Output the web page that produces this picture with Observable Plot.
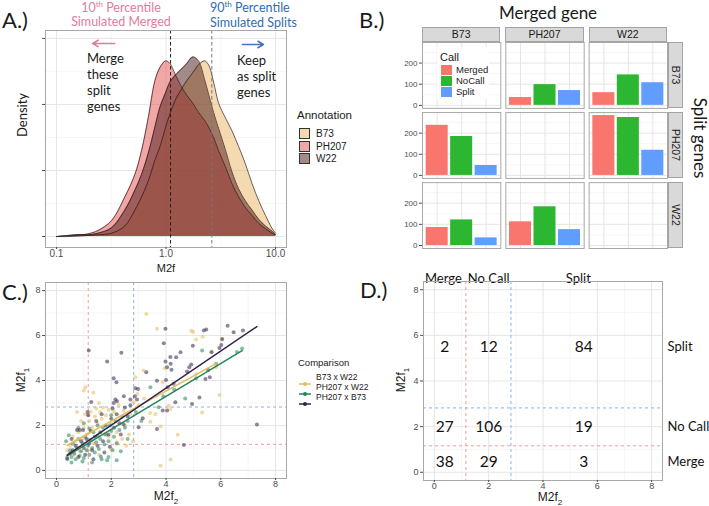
<!DOCTYPE html>
<html><head><meta charset="utf-8">
<script src="https://cdn.jsdelivr.net/npm/d3@7"></script>
<script src="https://cdn.jsdelivr.net/npm/@observablehq/plot@0.6"></script>
<style>
body{margin:0;background:#fff;}
#root{position:relative;width:709px;height:506px;overflow:hidden;background:#fff;font-family:"Liberation Sans",Arial,sans-serif;color:#1a1a1a;}
.abs{position:absolute;white-space:nowrap;line-height:1;}
.cal{font-family:Lato,"Open Sans",sans-serif;}
#root svg{position:absolute;overflow:visible;}
</style></head><body><div id="root"></div>
<script>
// ---------- DATA ----------
const lines = ["B73", "PH207", "W22"];
// Panel A: density of M2f (log x)
const densityM2f  = [0.1,0.127,0.157,0.194,0.239,0.318,0.421,0.52,0.598,0.689,0.793,0.881,0.993,1.088,1.21,1.393,1.548,1.758,1.98,2.248,2.445,2.718,3.02,3.477,4.003,4.609,5.305,6.109,7.031,8.093,9.313,10];
const densityB73  = [0,0,0.003,0.008,0.013,0.025,0.08,0.2,0.3,0.42,0.58,0.68,0.83,0.93,1.03,1.12,1.18,1.24,1.3,1.33,1.3,1.17,1.01,0.9,0.8,0.68,0.55,0.4,0.27,0.16,0.06,0.025];
const densityPH207= [0,0.005,0.01,0.02,0.045,0.12,0.3,0.47,0.65,0.9,1.18,1.28,1.33,1.31,1.23,1.13,1.07,1.01,0.94,0.88,0.83,0.75,0.65,0.53,0.4,0.3,0.22,0.16,0.1,0.06,0.025,0.013];
const densityW22  = [0,0.008,0.015,0.013,0.025,0.066,0.2,0.35,0.47,0.63,0.83,0.98,1.09,1.17,1.22,1.27,1.31,1.36,1.33,1.19,1.08,0.94,0.82,0.66,0.49,0.36,0.27,0.2,0.13,0.08,0.04,0.015];
const pctMerged = 1.1, pctSplit = 2.62;

// Panel B: counts of calls
const calls = ["Merged", "NoCall", "Split"];
const barSplit  = ["B73","B73","B73","B73","B73","B73","PH207","PH207","PH207","PH207","PH207","PH207","W22","W22","W22","W22","W22","W22"];
const barMerged = ["PH207","PH207","PH207","W22","W22","W22","B73","B73","B73","W22","W22","W22","B73","B73","B73","PH207","PH207","PH207"];
const barCall   = ["Merged","NoCall","Split","Merged","NoCall","Split","Merged","NoCall","Split","Merged","NoCall","Split","Merged","NoCall","Split","Merged","NoCall","Split"];
const barCount  = [37,98,70, 60,144,107, 237,184,47, 283,274,119, 85,121,36, 112,183,75];

// Panel C: M2f2 vs M2f1 points
const comps = ["B73 x W22", "PH207 x W22", "PH207 x B73"];
const b73w22 = [[3.28,6.96],[3.67,6.30],[4.92,6.21],[4.99,6.16],[5.34,5.95],[5.10,5.82],[6.05,5.82],[5.68,5.29],[3.95,4.54],[5.83,4.59],[5.11,4.29],[3.18,4.44],[2.88,4.14],[3.88,3.92],[1.06,3.70],[5.95,3.36],[4.10,2.88],[4.16,2.73],[5.32,2.58],[3.61,2.51],[3.42,2.55],[3.43,2.17],[3.80,1.95],[4.43,1.59],[3.80,0.21],[4.17,0.48],[2.82,3.03],[2.27,2.91],[1.0,3.55],
 [0.5,1.1],[0.6,1.5],[0.7,1.3],[0.75,2.6],[0.8,1.7],[0.9,2.2],[0.95,1.4],[1.0,1.9],[1.05,2.5],[1.1,1.6],[1.2,2.2],[1.25,2.6],[1.3,1.9],[1.4,2.4],[1.45,2.75],[1.5,2.1],[1.6,2.6],[1.65,2.3],[1.7,2.8],[1.75,1.6],[1.8,2.45],[1.9,2.7],[2.0,2.1],[2.1,2.6],[2.2,1.7],[2.3,2.3],[2.4,1.4],[2.5,2.0],[2.55,1.1],[2.65,1.6],[2.7,2.5],[2.8,1.3],[0.65,0.7],[1.15,0.9],[1.35,1.2],[0.85,0.85],[1.55,0.7],[2.0,0.95],[2.2,1.25],[1.9,1.5],[3.0,2.9],[3.2,3.2],[2.95,3.4],[0.4,0.9],[1.35,3.45],[2.45,2.65],[1.55,3.0]];
const ph207w22 = [[5.32,5.33],[5.83,4.74],[3.43,3.70],[3.73,2.81],[6.59,5.27],[6.78,5.42],[4.7,3.2],[5.1,4.1],[3.9,3.3],[4.3,3.6],[2.9,2.6],[3.1,2.2],[2.5,1.9],[2.6,2.2],
 [0.4,0.5],[0.45,1.56],[0.5,0.9],[0.55,0.6],[0.6,1.2],[0.65,0.75],[0.7,0.5],[0.75,1.0],[0.8,1.4],[0.85,0.65],[0.9,0.85],[0.95,1.2],[1.0,0.55],[1.05,1.5],[1.1,0.9],[1.15,1.1],[1.2,0.7],[1.25,1.35],[1.3,1.0],[1.35,1.7],[1.4,0.8],[1.45,1.25],[1.5,1.55],[1.55,0.95],[1.6,1.4],[1.65,0.5],[1.7,1.9],[1.75,1.15],[1.8,1.6],[1.85,0.45],[1.9,1.3],[1.95,2.0],[2.0,1.75],[2.05,0.9],[2.1,1.5],[2.15,2.2],[2.2,1.2],[2.3,1.8],[2.4,2.4],[0.35,1.3],[1.2,1.85],[1.9,0.6],[2.2,0.45],[0.55,0.35],[1.0,2.1],[2.6,1.4],[0.8,1.9],[1.5,2.0],[2.0,2.45],[1.3,0.35],[1.62,0.62],[2.35,0.85],[0.95,0.4]];
const ph207b73 = [[3.98,6.30],[5.38,6.22],[5.47,6.27],[6.25,6.44],[6.47,6.15],[6.81,6.22],[3.92,5.66],[1.18,5.33],[2.37,5.23],[1.85,4.84],[4.98,5.55],[6.02,5.58],[5.66,5.26],[4.53,5.26],[4.37,5.03],[3.98,4.84],[4.17,4.74],[4.04,4.59],[4.92,4.71],[4.85,4.59],[4.20,4.48],[4.77,4.40],[5.54,4.47],[5.60,4.14],[5.44,4.07],[3.28,4.37],[2.09,4.10],[2.19,3.92],[3.67,3.99],[4.00,4.02],[4.28,3.85],[4.06,3.70],[2.88,3.65],[2.98,3.62],[5.22,3.24],[4.34,3.03],[4.95,2.96],[4.04,2.66],[3.88,2.66],[3.15,2.32],[3.00,1.92],[3.67,1.84],[4.65,1.13],[7.32,2.04],[2.86,3.30],[2.94,3.15],[2.70,3.15],[2.46,3.30],[2.15,3.15],[2.21,3.08],[2.09,3.00],[4.16,5.05],[6.05,5.85],[5.95,5.45],
 [0.39,0.55],[0.5,0.75],[0.6,0.9],[0.7,1.1],[0.75,1.8],[0.85,1.8],[0.97,1.8],[1.14,2.6],[1.16,2.45],[1.27,3.04],[0.9,1.3],[1.0,1.0],[1.1,1.4],[1.2,1.2],[1.3,0.9],[1.4,1.5],[1.5,1.1],[1.6,1.7],[1.7,1.3],[1.8,2.0],[1.9,1.6],[2.0,2.3],[2.1,1.9],[2.2,2.5],[2.3,2.1],[2.5,2.8],[2.6,2.4],[2.7,2.9],[1.05,0.7],[0.8,0.6],[1.45,2.2],[1.65,2.5],[2.05,2.75],[2.35,1.6],[1.25,1.75],[0.55,1.4],[1.95,1.05],[2.45,2.05],[1.75,0.8],[1.35,0.5]];
// fitted lines (start / end) per comparison
const fitX0 = [0.39, 0.39, 0.39], fitY0 = [1.12, 0.65, 0.68];
const fitX1 = [5.86, 6.78, 7.32], fitY1 = [4.77, 5.33, 6.40];
const thrMerge = 1.16, thrSplit = 2.82;

// Panel D: counts per region
const dColHeaders = ["Merge", "No Call", "Split"];
const dRowLabels  = ["Split", "No Call", "Merge"];
const dColX = [0.38, 2.0, 5.5];
const dRowY = [5.5, 1.97, 0.44];
const dCounts = [2, 12, 84, 27, 106, 19, 38, 29, 3];

// ---------- STYLE ----------
const root = document.getElementById("root");
const baseStyle = {fontFamily: "Liberation Sans, Arial, sans-serif", background: "none", overflow: "visible", color: "#4D4D4D"};
const frameColor = "#A8A8A8";
const gridMajor = "#E6E6E6", gridMinor = "#F2F2F2";
const densFill = ["#EBB361", "#E54F4F", "#4A1616"];
const callColors = ["#F8766D", "#2DB632", "#619CFF"];
const compColors = ["#E3BE5E", "#25845A", "#33234A"];
const redDash = "#F39A93", blueDash = "#8CAEF0";

function place(el, x, y) { el.style.left = x + "px"; el.style.top = y + "px"; root.appendChild(el); }
function label(html, x, y, opts = {}) {
  const d = document.createElement("div");
  d.className = "abs" + (opts.cal ? " cal" : "");
  d.innerHTML = html;
  const ax = opts.ax ?? 0.5, ay = opts.ay ?? 0.5;
  d.style.transform = `translate(${-ax * 100}%, ${-ay * 100}%)` + (opts.rot ? ` rotate(${opts.rot}deg)` : "");
  d.style.fontSize = (opts.size || 10) + "px";
  if (opts.color) d.style.color = opts.color;
  if (opts.extra) Object.assign(d.style, opts.extra);
  place(d, x, y);
  return d;
}

// ---------- PANEL A ----------
const densArr = [densityB73, densityPH207, densityW22];
const densRows = lines.flatMap((ln, k) => densityM2f.map((x, i) => ({line: ln, x, d: densArr[k][i]})));
const arrowsA = [{x1: 0.34, x2: 0.214, y: 1.462, c: "#E27C9C"}, {x1: 4.98, x2: 7.76, y: 1.454, c: "#4472C4"}];
const plotA = Plot.plot({
  width: 290, height: 275, marginLeft: 45, marginRight: 4, marginTop: 30, marginBottom: 28,
  style: baseStyle,
  x: {type: "log", domain: [10 ** -1.1, 10 ** 1.1]},
  y: {domain: [-0.083, 1.56]},
  color: {domain: lines, range: densFill},
  marks: [
    Plot.ruleX([10 ** -0.5, 10 ** 0.5], {stroke: gridMinor, strokeWidth: 0.7}),
    Plot.ruleY([0.25, 0.75, 1.25], {stroke: gridMinor, strokeWidth: 0.7}),
    Plot.ruleX([0.1, 1, 10], {stroke: gridMajor}),
    Plot.ruleY([0, 0.5, 1, 1.5], {stroke: gridMajor}),
    Plot.area(densRows, {x1: "x", y1: 0, y2: "d", z: "line", fill: "line", fillOpacity: 0.5, curve: "catmull-rom"}),
    Plot.line(densRows, {x: "x", y: "d", z: "line", stroke: "#2a1616", strokeWidth: 0.7, curve: "catmull-rom"}),
    Plot.ruleX([pctMerged], {stroke: "#222", strokeDasharray: "3.5,2.5", strokeWidth: 1}),
    Plot.ruleX([pctSplit], {stroke: "#777", strokeDasharray: "3.5,2.5", strokeWidth: 1}),
    Plot.arrow([arrowsA[0]], {x1: "x1", x2: "x2", y1: "y", y2: "y", stroke: arrowsA[0].c, strokeWidth: 1.6, headLength: 6}),
    Plot.arrow([arrowsA[1]], {x1: "x1", x2: "x2", y1: "y", y2: "y", stroke: arrowsA[1].c, strokeWidth: 1.6, headLength: 6}),
    Plot.frame({stroke: frameColor}),
    Plot.axisX([0.1, 1, 10], {tickFormat: d => d < 0.5 ? "0.1" : d < 5 ? "1.0" : "10.0", tickSize: 2, tickPadding: 0, fontSize: 10, label: null}),
    Plot.axisY([0, 0.5, 1, 1.5], {tickSize: 3, tickFormat: () => "", label: null})
  ]
});
plotA.style.left = "0px"; plotA.style.top = "0px"; root.appendChild(plotA);

// ---------- PANEL B ----------
const bars = barCount.map((n, i) => ({s: barSplit[i], m: barMerged[i], call: barCall[i], n}));
const cells = lines.flatMap(s => lines.map(m => ({s, m})));
const plotB = Plot.plot({
  width: 300, height: 240, marginLeft: 42, marginRight: 13, marginTop: 22, marginBottom: 12,
  style: baseStyle,
  fx: {domain: lines, paddingInner: 0.06, paddingOuter: 0, round: false, axis: null, label: null},
  fy: {domain: lines, paddingInner: 0.06, paddingOuter: 0, round: false, axis: null, label: null},
  x: {domain: calls, paddingInner: 0.1, paddingOuter: 0.15, round: false, axis: null},
  y: {domain: [-14.2, 297.2]},
  color: {domain: calls, range: callColors},
  marks: [
    Plot.dot(cells, {fx: "m", fy: "s", r: 0}),
    Plot.ruleY([50, 150, 250], {stroke: gridMinor, strokeWidth: 0.7}),
    Plot.ruleY([0, 100, 200], {stroke: gridMajor}),
    Plot.gridX({stroke: gridMajor, strokeOpacity: 1}),
    Plot.barY(bars, {fx: "m", fy: "s", x: "call", y: "n", fill: "call"}),
    Plot.frame({stroke: frameColor}),
    Plot.axisY([0, 100, 200], {tickSize: 3, tickPadding: 2, fontSize: 8, label: null})
  ]
});
plotB.style.left = "380px"; plotB.style.top = "20px"; root.appendChild(plotB);

// strips for B
const bx0 = 422, bStepX = 245 / 2.94, bBandX = bStepX * 0.94;
const by0 = 42, bStepY = 206 / 2.94, bBandY = bStepY * 0.94;
lines.forEach((ln, i) => {
  const s = document.createElement("div");
  s.className = "abs";
  Object.assign(s.style, {width: bBandX + "px", height: "15px", background: "#D9D9D9", border: "1px solid #A3A3A3", boxSizing: "border-box", fontSize: "10.5px", lineHeight: "13px", textAlign: "center", color: "#1a1a1a"});
  s.textContent = ln;
  place(s, bx0 + i * bStepX, 27);
  const r = document.createElement("div");
  r.className = "abs";
  Object.assign(r.style, {width: "15px", height: bBandY + "px", background: "#D9D9D9", border: "1px solid #A3A3A3", boxSizing: "border-box"});
  place(r, 668, by0 + i * bStepY);
  label(ln, 675.5, by0 + i * bStepY + bBandY / 2, {size: 10.5, rot: 90, color: "#1a1a1a"});
});
// legend for B
const lgB = document.createElement("div");
lgB.className = "abs";
Object.assign(lgB.style, {width: "52px", height: "52px", background: "#fff"});
place(lgB, 437, 47);
label("Call", 440, 57, {ax: 0, size: 11});
calls.forEach((c, i) => {
  const k = document.createElement("div");
  k.className = "abs";
  Object.assign(k.style, {width: "11px", height: "10px", background: callColors[i]});
  place(k, 441, 65 + i * 11);
  label(c, 456, 70 + i * 11, {ax: 0, size: 9.5});
});

// ---------- PANEL C ----------
const pts = [
  ...b73w22.map(([x, y]) => ({x, y, c: comps[0]})),
  ...ph207w22.map(([x, y]) => ({x, y, c: comps[1]})),
  ...ph207b73.map(([x, y]) => ({x, y, c: comps[2]}))
];
const fits = comps.flatMap((c, i) => [{c, x: fitX0[i], y: fitY0[i]}, {c, x: fitX1[i], y: fitY1[i]}]);
function xyGrid() {
  return [
    Plot.ruleX([1, 3, 5, 7], {stroke: gridMinor, strokeWidth: 0.7}),
    Plot.ruleY([1, 3, 5, 7], {stroke: gridMinor, strokeWidth: 0.7}),
    Plot.ruleX([0, 2, 4, 6, 8], {stroke: gridMajor}),
    Plot.ruleY([0, 2, 4, 6, 8], {stroke: gridMajor}),
    Plot.ruleX([thrMerge], {stroke: redDash, strokeDasharray: "3,3"}),
    Plot.ruleX([thrSplit], {stroke: blueDash, strokeDasharray: "3,3"}),
    Plot.ruleY([thrMerge], {stroke: redDash, strokeDasharray: "3,3"}),
    Plot.ruleY([thrSplit], {stroke: blueDash, strokeDasharray: "3,3"})
  ];
}
function xyAxes() {
  return [
    Plot.frame({stroke: frameColor}),
    Plot.axisX([0, 2, 4, 6, 8], {tickSize: 2, tickPadding: 0, fontSize: 9, label: null}),
    Plot.axisY([0, 2, 4, 6, 8], {tickSize: 3, tickPadding: 2, fontSize: 9, label: null})
  ];
}
const plotC = Plot.plot({
  width: 290, height: 236, marginLeft: 45, marginRight: 4, marginTop: 12, marginBottom: 28,
  style: baseStyle,
  x: {domain: [-0.4, 8.4]}, y: {domain: [-0.36, 8.36]},
  color: {domain: comps, range: compColors},
  marks: [
    ...xyGrid(),
    Plot.dot(pts, {x: "x", y: "y", fill: "c", r: 2, fillOpacity: 0.55}),
    Plot.line(fits, {x: "x", y: "y", z: "c", stroke: "c", strokeWidth: 1.5}),
    ...xyAxes()
  ]
});
plotC.style.left = "0px"; plotC.style.top = "270px"; root.appendChild(plotC);

// legend for C
label("Comparison", 298, 363, {ax: 0, size: 9.5});
comps.forEach((c, i) => {
  const y = 377 + i * 10;
  const k = document.createElement("div");
  k.className = "abs";
  k.innerHTML = `<svg width="12" height="6" style="position:static"><line x1="0" x2="12" y1="3" y2="3" stroke="${compColors[i]}" stroke-width="1.5"/><circle cx="6" cy="3" r="2" fill="${compColors[i]}"/></svg>`;
  place(k, 299, y - 3);
  label(c, 316, y, {ax: 0, size: 8.5});
});

// ---------- PANEL D ----------
const dCells = dCounts.map((n, i) => ({x: dColX[i % 3], y: dRowY[Math.floor(i / 3)], t: String(n)}));
const plotD = Plot.plot({
  width: 314, height: 244, marginLeft: 28, marginRight: 47, marginTop: 19, marginBottom: 26,
  style: baseStyle,
  x: {domain: [-0.4, 8.4]}, y: {domain: [-0.36, 8.36]},
  marks: [
    ...xyGrid(),
    Plot.text(dCells, {x: "x", y: "y", text: "t", fontSize: 15.5, fontFamily: "Lato, sans-serif", fill: "#111"}),
    Plot.text(dColHeaders, {x: (d, i) => [0.33, 2.0, 5.3][i], text: d => d, frameAnchor: "top", dy: -8, fontSize: 13, fontFamily: "Lato, sans-serif", fill: "#111"}),
    Plot.text(dRowLabels, {y: (d, i) => dRowY[i], text: d => d, frameAnchor: "right", dx: 5, textAnchor: "start", fontSize: 13, fontFamily: "Lato, sans-serif", fill: "#111"}),
    ...xyAxes()
  ]
});
plotD.style.left = "395px"; plotD.style.top = "262px"; root.appendChild(plotD);

// ---------- TEXT ANNOTATIONS ----------
label("A.)", 2, 20, {ax: 0, size: 22, cal: true});
label("B.)", 359, 20, {ax: 0, size: 22, cal: true});
label("C.)", 2, 292, {ax: 0, size: 22, cal: true});
label("D.)", 360, 290, {ax: 0, size: 22, cal: true});

label("10<sup style='font-size:8px'>th</sup> Percentile", 121, 7, {size: 12.5, cal: true, color: "#E27C9C"});
label("Simulated Merged", 121, 22, {size: 12.5, cal: true, color: "#E27C9C"});
label("90<sup style='font-size:8px'>th</sup> Percentile", 210, 7, {ax: 0, size: 12.5, cal: true, color: "#2E6DB4"});
label("Simulated Splits", 210, 23, {ax: 0, size: 12.5, cal: true, color: "#2E6DB4"});
["Merge", "these", "split", "genes"].forEach((w, i) => label(w, 87, 58 + i * 16, {ax: 0, size: 13, cal: true}));
["Keep", "as split", "genes"].forEach((w, i) => label(w, 237, 60 + i * 16, {ax: 0, size: 13, cal: true}));
label("Density", 22, 115, {size: 13, cal: true, rot: -90});
label("M2f", 166, 268, {size: 11});

label("Annotation", 297, 116, {ax: 0, size: 11.5});
const keyA = ["rgb(245,217,176)", "rgb(242,167,167)", "rgb(164,137,137)"];
lines.forEach((ln, i) => {
  const k = document.createElement("div");
  k.className = "abs";
  Object.assign(k.style, {width: "11px", height: "11px", background: keyA[i], border: "1px solid #333", boxSizing: "border-box"});
  place(k, 299, 128 + i * 12.5);
  label(ln, 316, 134 + i * 12.5, {ax: 0, size: 10});
});

label("Merged gene", 548, 12, {size: 17, cal: true});
label("Split genes", 700, 138, {size: 17, cal: true, rot: 90});

label("M2f<sub style='font-size:8px'>2</sub>", 166, 498, {size: 12});
label("M2f<sub style='font-size:8px'>1</sub>", 23, 380, {size: 12, rot: -90});
label("M2f<sub style='font-size:8px'>2</sub>", 550, 499, {size: 12});
label("M2f<sub style='font-size:8px'>1</sub>", 403, 380, {size: 12, rot: -90});
</script></body></html>
